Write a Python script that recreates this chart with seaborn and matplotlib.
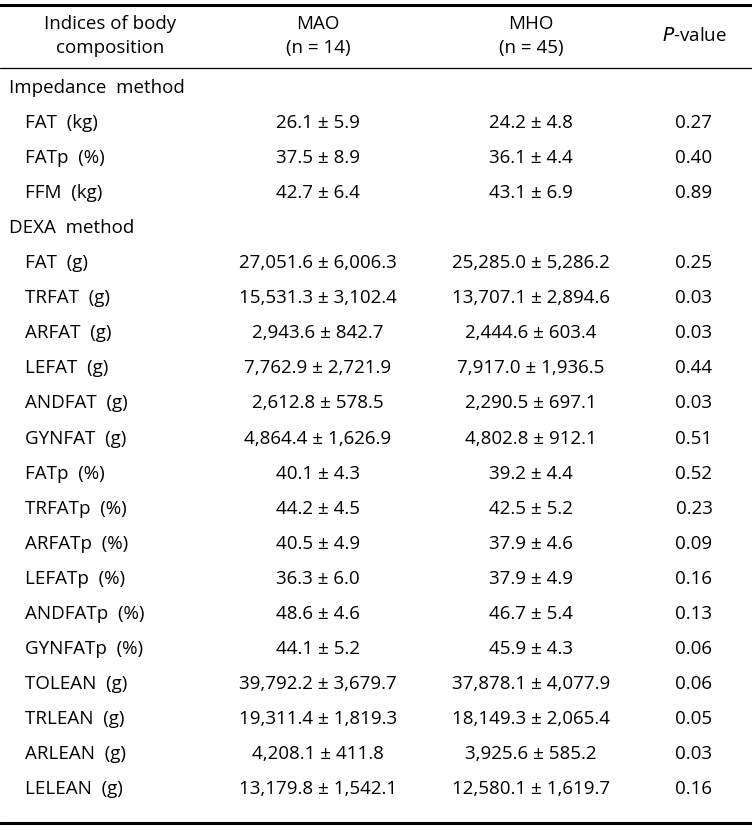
import matplotlib
matplotlib.use("Agg")
import matplotlib.pyplot as plt
import seaborn as sns

sns.set_theme(style="white")
plt.rcParams['font.family'] = ['Open Sans', 'DejaVu Sans']
plt.rcParams['text.color'] = 'black'

# Table content
headers = ["Indices of body\ncomposition", "MAO\n(n = 14)", "MHO\n(n = 45)", "P-value"]

rows = [
    "Impedance  method", "FAT  (kg)", "FATp  (%)", "FFM  (kg)",
    "DEXA  method", "FAT  (g)", "TRFAT  (g)", "ARFAT  (g)", "LEFAT  (g)",
    "ANDFAT  (g)", "GYNFAT  (g)", "FATp  (%)", "TRFATp  (%)", "ARFATp  (%)",
    "LEFATp  (%)", "ANDFATp  (%)", "GYNFATp  (%)", "TOLEAN  (g)",
    "TRLEAN  (g)", "ARLEAN  (g)", "LELEAN  (g)",
]
is_section = [r.endswith("method") for r in rows]

mao = [
    "", "26.1 ± 5.9", "37.5 ± 8.9", "42.7 ± 6.4",
    "", "27,051.6 ± 6,006.3", "15,531.3 ± 3,102.4", "2,943.6 ± 842.7",
    "7,762.9 ± 2,721.9", "2,612.8 ± 578.5", "4,864.4 ± 1,626.9",
    "40.1 ± 4.3", "44.2 ± 4.5", "40.5 ± 4.9", "36.3 ± 6.0", "48.6 ± 4.6",
    "44.1 ± 5.2", "39,792.2 ± 3,679.7", "19,311.4 ± 1,819.3",
    "4,208.1 ± 411.8", "13,179.8 ± 1,542.1",
]
mho = [
    "", "24.2 ± 4.8", "36.1 ± 4.4", "43.1 ± 6.9",
    "", "25,285.0 ± 5,286.2", "13,707.1 ± 2,894.6", "2,444.6 ± 603.4",
    "7,917.0 ± 1,936.5", "2,290.5 ± 697.1", "4,802.8 ± 912.1",
    "39.2 ± 4.4", "42.5 ± 5.2", "37.9 ± 4.6", "37.9 ± 4.9", "46.7 ± 5.4",
    "45.9 ± 4.3", "37,878.1 ± 4,077.9", "18,149.3 ± 2,065.4",
    "3,925.6 ± 585.2", "12,580.1 ± 1,619.7",
]
pvals = [
    "", "0.27", "0.40", "0.89",
    "", "0.25", "0.03", "0.03", "0.44", "0.03", "0.51", "0.52", "0.23",
    "0.09", "0.16", "0.13", "0.06", "0.06", "0.05", "0.03", "0.16",
]

W, H = 752, 830
fig = plt.figure(figsize=(W / 100, H / 100), dpi=100)
ax = fig.add_axes([0, 0, 1, 1])
ax.set_xlim(0, W)
ax.set_ylim(H, 0)
ax.axis("off")

fs = 13.5
col_x = [110, 318, 531, 694]

# Rules
ax.axhline(5, color="black", lw=2.2)
ax.axhline(68, color="black", lw=0.9)
ax.axhline(823, color="black", lw=2.2)

# Header
for j in range(3):
    ax.text(col_x[j], 36, headers[j], ha="center", va="center", fontsize=fs, linespacing=1.45)
ax.text(col_x[3], 36, r"$\it{P}$-value", ha="center", va="center", fontsize=fs)

# Body rows
y0, dy = 88, 35.05
for i, label in enumerate(rows):
    y = y0 + i * dy
    if is_section[i]:
        ax.text(9, y, label, ha="left", va="center", fontsize=fs)
        continue
    ax.text(25, y, label, ha="left", va="center", fontsize=fs)
    ax.text(col_x[1], y, mao[i], ha="center", va="center", fontsize=fs)
    ax.text(col_x[2], y, mho[i], ha="center", va="center", fontsize=fs)
    ax.text(col_x[3], y, pvals[i], ha="center", va="center", fontsize=fs)

fig.savefig("out.png", dpi=100, facecolor="white")
